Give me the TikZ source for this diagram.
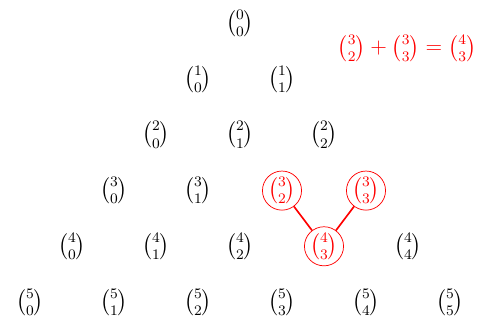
\documentclass[tikz,border=0pt]{standalone}
\usepackage{amsmath}

\begin{document}
\begin{tikzpicture}[
  x=0.55pt, y=-0.55pt,
  font=\large,
  entry/.style={inner sep=1pt},
  pick/.style={draw=red, text=red, circle, minimum size=21.5pt, inner sep=0pt},
  hl-3-2/.style={pick},
  hl-3-3/.style={pick},
  hl-4-3/.style={pick},
  link/.style={draw=red, line width=0.9pt}
]
\useasboundingbox (0,0) rectangle (483,320);

% Pascal triangle of binomials
\foreach \n in {0,...,5}
  \foreach \k in {0,...,\n}
    \node[entry, hl-\n-\k/.try] (b\n\k) at ({240+42*(2*\k-\n)}, {23.5+55.7*\n}) {$\binom{\n}{\k}$};

\draw[link] (b43) -- (b32);
\draw[link] (b43) -- (b33);

\node[text=red] (rule) at (407,48) {$\binom{3}{2}+\binom{3}{3}=\binom{4}{3}$};

\end{tikzpicture}
\end{document}
